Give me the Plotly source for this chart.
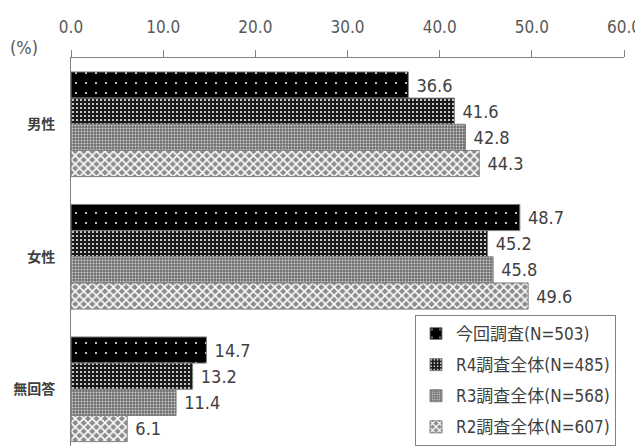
import plotly.graph_objects as go

categories = ["男性", "女性", "無回答"]
series_names = ["今回調査(N=503)", "R4調査全体(N=485)", "R3調査全体(N=568)", "R2調査全体(N=607)"]
values_current = [36.6, 48.7, 14.7]
values_r4 = [41.6, 45.2, 13.2]
values_r3 = [42.8, 45.8, 11.4]
values_r2 = [44.3, 49.6, 6.1]
tick_vals = [0, 10, 20, 30, 40, 50, 60]

all_values = [values_current, values_r4, values_r3, values_r2]
patterns = [
    dict(shape=".", bgcolor="#000000", fgcolor="#ffffff", size=10, solidity=0.03, fillmode="replace"),
    dict(shape=".", bgcolor="#1a1a1a", fgcolor="#ffffff", size=4, solidity=0.2, fillmode="replace"),
    dict(shape=".", bgcolor="#6e6e6e", fgcolor="#d0d0d0", size=3, solidity=0.35, fillmode="replace"),
    dict(shape="x", bgcolor="#8c8c8c", fgcolor="#ffffff", size=6, solidity=0.45, fillmode="replace"),
]

NARROW = "DejaVu Sans Condensed, Liberation Sans Narrow, sans-serif"

# page body has an 8px default margin; figure is sized/offset to fit the 643x446 window
W, H = 635, 438
L, R, T, B = 63, 19, 50, 0
PW, PH = W - L - R, H - T - B

fig = go.Figure()
for i, (name, vals, pat) in enumerate(zip(series_names, all_values, patterns)):
    fig.add_trace(go.Bar(
        y=categories, x=vals, orientation="h", name=name, legendgroup=f"g{i}",
        marker=dict(color=pat["bgcolor"], pattern=pat, line=dict(color="#808080", width=1)),
        text=[" " + f"{v:.1f}" for v in vals],
        textposition="outside",
        textfont=dict(family=NARROW, size=18, color="#404040"),
        cliponaxis=False,
    ))

fig.update_layout(
    width=W, height=H,
    margin=dict(l=L, r=R, t=T, b=B, autoexpand=False),
    paper_bgcolor="white", plot_bgcolor="white",
    barmode="group", bargap=0.21, bargroupgap=0,
    showlegend=True,
    legend=dict(
        x=(407 - L) / PW, y=0.0, xanchor="left", yanchor="bottom",
        bordercolor="#808080", borderwidth=1, bgcolor="white",
        font=dict(family=NARROW + ", Noto Sans CJK JP", size=17, color="#404040"),
        tracegroupgap=6, itemwidth=30,
    ),
    xaxis=dict(
        side="top", range=[0, 60], tickvals=tick_vals, tickformat=".1f",
        showgrid=False, zeroline=False, showline=True, linecolor="#808080", linewidth=1,
        ticks="outside", ticklen=7, tickcolor="#808080", automargin=False,
        tickfont=dict(family=NARROW, size=17, color="#595959"),
        ticklabelstandoff=10, ticklabeloverflow="allow",
    ),
    yaxis=dict(
        categoryorder="array", categoryarray=categories,
        range=[2.428, -0.5], automargin=False,
        showgrid=False, zeroline=False, showline=True, linecolor="#808080", linewidth=1,
        ticks="", ticklabelstandoff=12,
        tickfont=dict(family="Noto Sans CJK JP", size=14, color="#404040", weight="bold"),
    ),
)
fig.add_annotation(
    text="(%)", xref="paper", yref="paper",
    x=(0 - L) / PW, y=(H - 39) / PH, xanchor="left", yanchor="middle",
    showarrow=False, font=dict(family=NARROW, size=18, color="#595959"),
)

fig.write_html("out.html")
